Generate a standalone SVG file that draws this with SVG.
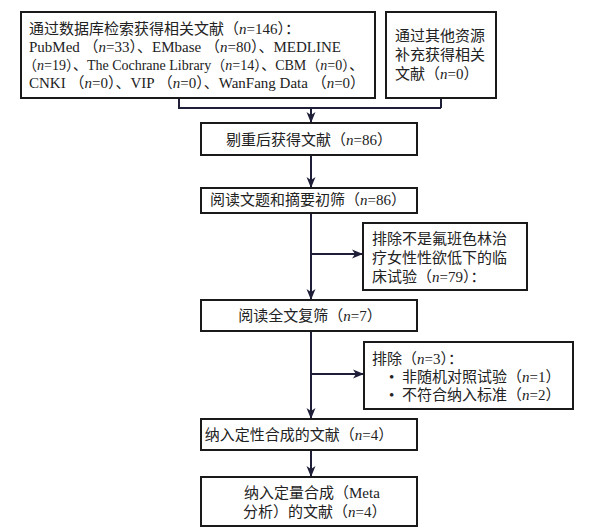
<svg xmlns="http://www.w3.org/2000/svg" width="593" height="531" viewBox="0 0 593 531">
<style>
.box{fill:#fff;stroke:#1a1a1a;stroke-width:2}
.t{font-family:"Liberation Serif","Noto Sans CJK SC",serif;font-size:15px;fill:#222}
.s{font-size:14px}
.c{text-anchor:middle}
.ln{fill:none;stroke:#1e1e38;stroke-width:2}
</style>
<defs>
<marker id="ah" markerUnits="userSpaceOnUse" markerWidth="12" markerHeight="10" refX="11" refY="5" orient="auto">
<path d="M0,0.5 L11,5 L0,9.5 L3,5 z" fill="#1e1e38"/>
</marker>
</defs>
<rect width="593" height="531" fill="#fff"/>
<g id="connectors">
<polyline class="ln" points="179,98 179,108 441,108"/>
<line class="ln" x1="441" y1="98" x2="441" y2="108"/>
<line class="ln" x1="311" y1="108" x2="311" y2="123" marker-end="url(#ah)"/>
<line class="ln" x1="311" y1="155" x2="311" y2="188" marker-end="url(#ah)"/>
<line class="ln" x1="311" y1="213" x2="311" y2="300" marker-end="url(#ah)"/>
<line class="ln" x1="311" y1="254" x2="363" y2="254" marker-end="url(#ah)"/>
<line class="ln" x1="311" y1="331" x2="311" y2="419" marker-end="url(#ah)"/>
<line class="ln" x1="311" y1="374" x2="364" y2="374" marker-end="url(#ah)"/>
<line class="ln" x1="311" y1="450" x2="311" y2="477" marker-end="url(#ah)"/>
</g>
<g id="n1">
<rect class="box" x="21" y="12" width="354" height="86"/>
<text class="t" x="29" y="34" font-size="14.5">通过数据库检索获得相关文献（<tspan font-style="italic">n</tspan>=146）：</text>
<text class="t" x="29" y="52">PubMed （<tspan font-style="italic">n</tspan>=33）、EMbase （<tspan font-style="italic">n</tspan>=80）、MEDLINE</text>
<text class="t s" x="23" y="70">（<tspan font-style="italic">n</tspan>=19）、The Cochrane Library（<tspan font-style="italic">n</tspan>=14）、CBM（<tspan font-style="italic">n</tspan>=0）、</text>
<text class="t" x="29" y="88">CNKI （<tspan font-style="italic">n</tspan>=0）、VIP （<tspan font-style="italic">n</tspan>=0）、WanFang Data （<tspan font-style="italic">n</tspan>=0）</text>
</g>
<g id="n2">
<rect class="box" x="386" y="12" width="110" height="86"/>
<text class="t" x="395" y="41">通过其他资源</text>
<text class="t" x="395" y="60">补充获得相关</text>
<text class="t" x="395" y="79">文献（<tspan font-style="italic">n</tspan>=0）</text>
</g>
<g id="n3">
<rect class="box" x="201" y="123" width="216" height="32"/>
<text class="t c" x="309" y="145">剔重后获得文献（<tspan font-style="italic">n</tspan>=86）</text>
</g>
<g id="n4">
<rect class="box" x="201" y="188" width="216" height="25"/>
<text class="t c" x="308" y="205">阅读文题和摘要初筛（<tspan font-style="italic">n</tspan>=86）</text>
</g>
<g id="n5">
<rect class="box" x="363" y="223" width="164" height="67"/>
<text class="t" x="372" y="244">排除不是氟班色林治</text>
<text class="t" x="372" y="263">疗女性性欲低下的临</text>
<text class="t" x="372" y="282">床试验（<tspan font-style="italic">n</tspan>=79）：</text>
</g>
<g id="n6">
<rect class="box" x="201" y="300" width="216" height="31"/>
<text class="t c" x="310" y="321">阅读全文复筛（<tspan font-style="italic">n</tspan>=7）</text>
</g>
<g id="n7">
<rect class="box" x="364" y="342" width="209" height="67"/>
<text class="t" x="372" y="364">排除（<tspan font-style="italic">n</tspan>=3）：</text>
<text class="t" x="389" y="382">•</text>
<text class="t" x="402" y="382">非随机对照试验（<tspan font-style="italic">n</tspan>=1）</text>
<text class="t" x="389" y="400">•</text>
<text class="t" x="402" y="400">不符合纳入标准（<tspan font-style="italic">n</tspan>=2）</text>
</g>
<g id="n8">
<rect class="box" x="201" y="419" width="216" height="31"/>
<text class="t c" x="299" y="440">纳入定性合成的文献（<tspan font-style="italic">n</tspan>=4）</text>
</g>
<g id="n9">
<rect class="box" x="201" y="477" width="216" height="49"/>
<text class="t" x="244" y="498">纳入定量合成（Meta</text>
<text class="t" x="243" y="517">分析）的文献（<tspan font-style="italic">n</tspan>=4）</text>
</g>
</svg>
